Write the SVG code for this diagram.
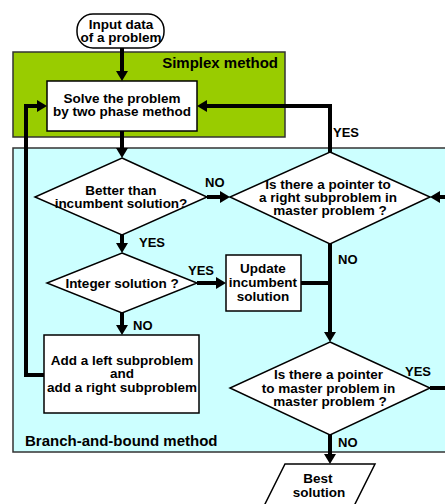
<svg xmlns="http://www.w3.org/2000/svg" width="445" height="504" viewBox="0 0 445 504">
  <defs>
    <marker id="arrow" markerUnits="userSpaceOnUse" markerWidth="10" markerHeight="12" refX="4" refY="6" orient="auto">
      <path d="M0,0 L10,6 L0,12 z" fill="#000"/>
    </marker>
    <style>
      text { font-family: "Liberation Sans", Arial, sans-serif; font-weight: bold; fill: #000; }
      .node { fill: #fff; stroke: #000; stroke-width: 1.5; }
      .lbl { font-size: 13.5px; text-anchor: middle; }
      .edge { font-size: 13px; }
      .region { font-size: 15px; }
      .conn { fill: none; stroke: #000; stroke-width: 4; }
    </style>
  </defs>

  <rect width="445" height="504" fill="#fff"/>

  <!-- method regions -->
  <g id="simplex-region">
    <rect x="13" y="52" width="272" height="85" fill="#99cc00" stroke="#333" stroke-width="1.5"/>
    <text class="region" x="278" y="68" text-anchor="end">Simplex  method</text>
  </g>
  <g id="bnb-region">
    <rect x="13" y="148" width="445" height="304" fill="#ccffff" stroke="#333" stroke-width="1.5"/>
    <text class="region" x="25" y="446">Branch-and-bound  method</text>
  </g>

  <!-- connectors -->
  <g id="connectors">
    <path class="conn" d="M122,48 V75" marker-end="url(#arrow)"/>
    <path class="conn" d="M122,131 V152" marker-end="url(#arrow)"/>
    <path class="conn" d="M207,197 H224" marker-end="url(#arrow)"/>
    <path class="conn" d="M122,235 V247" marker-end="url(#arrow)"/>
    <path class="conn" d="M197,283 H220" marker-end="url(#arrow)"/>
    <path class="conn" d="M122,313 V329" marker-end="url(#arrow)"/>
    <path class="conn" d="M44,375 H26 V106 H41" marker-end="url(#arrow)"/>
    <path class="conn" d="M330,244 V336" marker-end="url(#arrow)"/>
    <path class="conn" d="M301,283 H330"/>
    <path class="conn" d="M330,435 V458" marker-end="url(#arrow)"/>
    <path class="conn" d="M430,388 H450 V197 H436" marker-end="url(#arrow)"/>
    <path class="conn" d="M330,152 V106 H203" marker-end="url(#arrow)"/>

    <text class="edge" x="333" y="137">YES</text>
    <text class="edge" x="205" y="187">NO</text>
    <text class="edge" x="139" y="247">YES</text>
    <text class="edge" x="188" y="275">YES</text>
    <text class="edge" x="338" y="264">NO</text>
    <text class="edge" x="133" y="330">NO</text>
    <text class="edge" x="405" y="376">YES</text>
    <text class="edge" x="338" y="447">NO</text>
  </g>

  <!-- nodes -->
  <g id="input">
    <rect class="node" x="77" y="14" width="87" height="34" rx="16" ry="16"/>
    <text class="lbl" x="121" y="29">Input data</text>
    <text class="lbl" x="121" y="42">of a problem</text>
  </g>

  <g id="solve">
    <rect class="node" x="47" y="81" width="150" height="50"/>
    <text class="lbl" x="122" y="102.5">Solve the problem</text>
    <text class="lbl" x="122" y="116">by two phase method</text>
  </g>

  <g id="better">
    <polygon class="node" points="122,158 207,197 122,235 35,197"/>
    <text class="lbl" x="121" y="195">Better than</text>
    <text class="lbl" x="121" y="207.5">incumbent solution?</text>
  </g>

  <g id="integer">
    <polygon class="node" points="122,253 197,283 122,313 47,283"/>
    <text class="lbl" x="122" y="287.5">Integer solution ?</text>
  </g>

  <g id="update">
    <rect class="node" x="226" y="255" width="75" height="56"/>
    <text class="lbl" x="263" y="273">Update</text>
    <text class="lbl" x="263" y="287">incumbent</text>
    <text class="lbl" x="263" y="301">solution</text>
  </g>

  <g id="add">
    <rect class="node" x="44" y="335" width="155" height="78"/>
    <text class="lbl" x="122" y="364.5">Add a left subproblem</text>
    <text class="lbl" x="122" y="378">and</text>
    <text class="lbl" x="122" y="391.5">add a right subproblem</text>
  </g>

  <g id="right-pointer">
    <polygon class="node" points="330,152 430,197 330,244 230,197"/>
    <text class="lbl" x="328" y="188.5">Is there a pointer to</text>
    <text class="lbl" x="328" y="202">a right subproblem in</text>
    <text class="lbl" x="330" y="215">master problem ?</text>
  </g>

  <g id="master-pointer">
    <polygon class="node" points="330,342 430,388 330,435 230,388"/>
    <text class="lbl" x="328.5" y="379">Is there a pointer</text>
    <text class="lbl" x="328.5" y="392.5">to master problem in</text>
    <text class="lbl" x="330" y="406">master problem ?</text>
  </g>

  <g id="best">
    <polygon class="node" points="285,464 375,464 353,508 263,508"/>
    <text class="lbl" x="318" y="483">Best</text>
    <text class="lbl" x="319" y="497">solution</text>
  </g>
</svg>
